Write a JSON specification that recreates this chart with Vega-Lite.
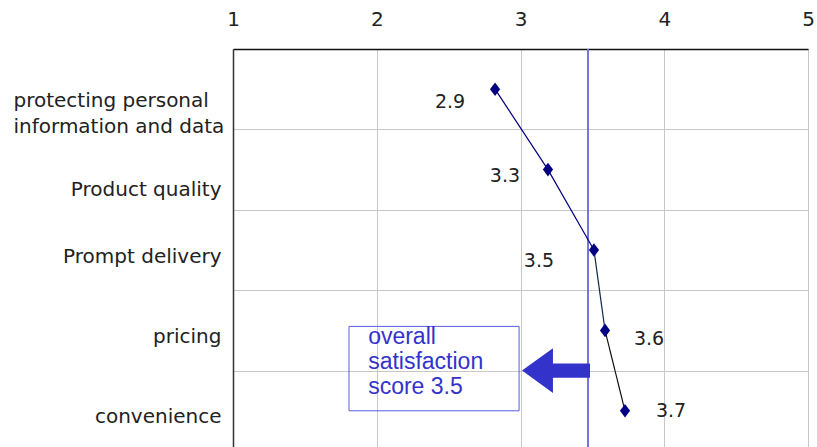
{
  "$schema": "https://vega.github.io/schema/vega-lite/v6.json",
  "width": 575,
  "height": 402,
  "autosize": "none",
  "padding": {"left": 233, "top": 49, "right": 9, "bottom": 0},
  "background": "white",
  "config": {
    "view": {"stroke": null},
    "font": "DejaVu Sans"
  },
  "data": {
    "values": [
      {"item": "protecting personal information and data", "score": 2.823, "label": "2.9"},
      {"item": "Product quality", "score": 3.191, "label": "3.3"},
      {"item": "Prompt delivery", "score": 3.511, "label": "3.5"},
      {"item": "pricing", "score": 3.588, "label": "3.6"},
      {"item": "convenience", "score": 3.727, "label": "3.7"}
    ]
  },
  "encoding": {
    "y": {
      "field": "item",
      "type": "nominal",
      "sort": null,
      "scale": {"paddingInner": 0, "paddingOuter": 0},
      "axis": {
        "title": null,
        "tickBand": "extent",
        "grid": true,
        "gridColor": "#c8c8c8",
        "gridWidth": 1,
        "ticks": false,
        "domainColor": "#333333",
        "domainWidth": 1.5,
        "labelFont": "DejaVu Sans",
        "labelFontSize": 20,
        "labelColor": "#222222",
        "labelPadding": {"expr": "datum.value == 'protecting personal information and data' ? 220 : 12"},
        "labelAlign": {"expr": "datum.value == 'protecting personal information and data' ? 'left' : 'right'"},
        "labelBaseline": "middle",
        "labelLimit": 300,
        "labelLineHeight": 26,
        "labelOffset": {"expr": "datum.value == 'protecting personal information and data' ? 11 : (datum.value == 'Product quality' ? 20 : 6)"},
        "labelExpr": "datum.value == 'protecting personal information and data' ? ['protecting personal', 'information and data'] : datum.label"
      }
    }
  },
  "layer": [
    {
      "mark": {"type": "rule", "color": "#7474e0", "strokeWidth": 1.2},
      "encoding": {
        "x": {
          "datum": 3.47,
          "type": "quantitative",
          "scale": {"domain": [1, 5], "nice": false, "zero": false},
          "axis": {
            "orient": "top",
            "title": null,
            "values": [1, 2, 3, 4, 5],
            "format": "d",
            "grid": true,
            "gridColor": "#c8c8c8",
            "gridWidth": 1,
            "ticks": false,
            "domainColor": "#111111",
            "domainWidth": 1.5,
            "labelFont": "DejaVu Sans",
            "labelFontSize": 20,
            "labelColor": "#222222",
            "labelPadding": 20,
            "labelFlush": false
          }
        },
        "y": null
      }
    },
    {
      "transform": [{"filter": {"field": "label", "oneOf": ["2.9", "3.3", "3.5"]}}],
      "mark": {"type": "line", "color": "#000080", "strokeWidth": 1.2},
      "encoding": {"x": {"field": "score", "type": "quantitative"}}
    },
    {
      "transform": [{"filter": {"field": "label", "oneOf": ["3.5", "3.6"]}}],
      "mark": {"type": "line", "color": "#102848", "strokeWidth": 1.2},
      "encoding": {"x": {"field": "score", "type": "quantitative"}}
    },
    {
      "transform": [{"filter": {"field": "label", "oneOf": ["3.6", "3.7"]}}],
      "mark": {"type": "line", "color": "#111111", "strokeWidth": 1.2},
      "encoding": {"x": {"field": "score", "type": "quantitative"}}
    },
    {
      "mark": {"type": "point", "shape": "M0,-1L0.75,0L0,1L-0.75,0Z", "filled": true, "color": "#000080", "opacity": 1, "size": 185},
      "encoding": {"x": {"field": "score", "type": "quantitative"}}
    },
    {
      "transform": [{"filter": {"field": "label", "equal": "2.9"}}],
      "mark": {"type": "text", "font": "DejaVu Sans", "fontSize": 19, "color": "#222222", "align": "center", "baseline": "middle", "dx": -45, "dy": 13},
      "encoding": {"x": {"field": "score", "type": "quantitative"}, "text": {"field": "label"}}
    },
    {
      "transform": [{"filter": {"field": "label", "equal": "3.3"}}],
      "mark": {"type": "text", "font": "DejaVu Sans", "fontSize": 19, "color": "#222222", "align": "center", "baseline": "middle", "dx": -43, "dy": 6},
      "encoding": {"x": {"field": "score", "type": "quantitative"}, "text": {"field": "label"}}
    },
    {
      "transform": [{"filter": {"field": "label", "equal": "3.5"}}],
      "mark": {"type": "text", "font": "DejaVu Sans", "fontSize": 19, "color": "#222222", "align": "center", "baseline": "middle", "dx": -55, "dy": 11},
      "encoding": {"x": {"field": "score", "type": "quantitative"}, "text": {"field": "label"}}
    },
    {
      "transform": [{"filter": {"field": "label", "equal": "3.6"}}],
      "mark": {"type": "text", "font": "DejaVu Sans", "fontSize": 19, "color": "#222222", "align": "center", "baseline": "middle", "dx": 44, "dy": 9},
      "encoding": {"x": {"field": "score", "type": "quantitative"}, "text": {"field": "label"}}
    },
    {
      "transform": [{"filter": {"field": "label", "equal": "3.7"}}],
      "mark": {"type": "text", "font": "DejaVu Sans", "fontSize": 19, "color": "#222222", "align": "center", "baseline": "middle", "dx": 46, "dy": 0},
      "encoding": {"x": {"field": "score", "type": "quantitative"}, "text": {"field": "label"}}
    },
    {
      "data": {"values": [{"note": "box"}]},
      "mark": {"type": "rect", "fill": "white", "fillOpacity": 0, "stroke": "#5a5ae0", "strokeWidth": 1},
      "encoding": {
        "x": {"datum": 1.807, "type": "quantitative"},
        "x2": {"datum": 2.99},
        "y": {"datum": "pricing", "bandPosition": 0.45},
        "y2": {"datum": "convenience", "bandPosition": 0.5}
      }
    },
    {
      "data": {"values": [{"note": "text"}]},
      "mark": {"type": "text", "font": "Liberation Sans", "fontSize": 23, "color": "#3333cc", "align": "left", "baseline": "middle", "lineHeight": 25, "dy": -34},
      "encoding": {
        "x": {"datum": 1.94, "type": "quantitative"},
        "y": {"datum": "convenience", "bandPosition": 0},
        "text": {"value": ["overall", "satisfaction", "score 3.5"]}
      }
    },
    {
      "data": {"values": [{"note": "arrow"}]},
      "mark": {"type": "point", "shape": "M-1,0L-0.09,-0.66L-0.09,-0.21L1,-0.21L1,0.21L-0.09,0.21L-0.09,0.66Z", "filled": true, "color": "#3333cc", "opacity": 1, "size": 4624, "strokeWidth": 0},
      "encoding": {
        "x": {"datum": 3.247, "type": "quantitative"},
        "y": {"datum": "convenience", "bandPosition": 0}
      }
    }
  ]
}
